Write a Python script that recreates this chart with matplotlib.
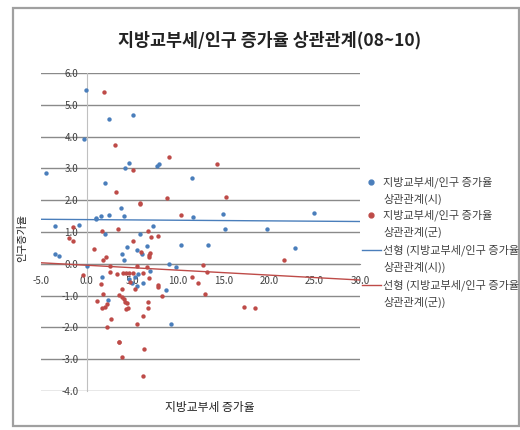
import matplotlib
matplotlib.use('Agg')
import matplotlib.pyplot as plt
from matplotlib.lines import Line2D
from matplotlib.patches import Rectangle
import numpy as np

plt.rcParams['font.family'] = ['Noto Sans CJK KR', 'DejaVu Sans']

# 시 (cities): 지방교부세 증가율 vs 인구 증가율
si_x = [-4.49, -0.10, -0.29, 2.46, 2.02, -3.43, -0.83, 1.00, 1.07, 1.61,
        2.46, 3.74, 4.07, 4.21, 4.69, 5.06, 7.25, 7.73, 7.91, 11.57,
        11.68, 2.05, 5.83, 14.94, 15.19, 19.84, 24.93, 22.88, 10.33, 13.33,
        9.08, 9.81, 8.72, 9.23, -3.43, -3.03, 0.08, 1.66, 2.35, 4.43,
        3.85, 4.14, 5.50, 6.05, 6.66, 6.93, 4.69, 5.31, 5.60, 5.53,
        6.16, 4.95]
si_y = [2.85, 5.47, 3.92, 4.56, 2.54, 1.20, 1.22, 1.40, 1.45, 1.50,
        1.53, 1.75, 1.50, 3.02, 3.17, 4.67, 1.18, 3.07, 3.13, 2.69,
        1.48, 0.94, 0.94, 1.57, 1.10, 1.10, 1.59, 0.51, 0.59, 0.59,
        -0.01, -0.10, -0.82, -1.88, 0.30, 0.24, -0.08, -0.42, -1.15, 0.52,
        0.30, 0.12, 0.43, 0.30, 0.57, -0.22, -0.49, -0.40, -0.33, -0.69,
        -0.61, -0.61]

# 군 (counties)
gun_x = [1.91, 3.12, 3.23, 5.09, 5.90, 5.83, 8.79, 9.01, 10.36, 3.41,
         6.78, 7.87, 7.03, 1.72, -1.53, -1.97, -1.46, 0.78, -0.40, 1.77,
         2.17, 1.11, 1.62, 1.77, 1.69, 2.05, 2.27, 2.57, 2.57, 2.71,
         2.24, 3.52, 3.37, 3.52, 14.35, 15.33, 6.96, 12.78, 13.18, 11.60,
         12.26, 7.84, 7.87, 8.31, 13.04, 17.25, 18.45, 21.62, 5.13, 6.88,
         6.90, 5.97, 5.50, 6.60, 3.96, 4.36, 4.70, 6.16, 6.88, 4.76,
         5.31, 3.85, 3.85, 4.14, 4.22, 4.40, 4.29, 4.51, 6.78, 6.78,
         6.16, 5.50, 3.59, 3.85, 6.30, 6.23, 5.13]
gun_y = [5.39, 3.75, 2.26, 2.96, 1.88, 1.91, 2.06, 3.35, 1.53, 1.10,
         1.04, 0.87, 0.85, 1.02, 1.15, 0.80, 0.73, 0.48, -0.36, 0.13,
         0.22, -1.18, -0.64, -0.96, -1.39, -1.35, -1.26, -0.07, -0.25, -1.75,
         -2.00, -2.45, -0.33, -0.98, 3.14, 2.11, 0.35, -0.04, -0.27, -0.40,
         -0.61, -0.67, -0.72, -1.00, -0.95, -1.37, -1.40, 0.12, 0.72, 0.28,
         0.20, 0.38, -0.06, -0.09, -0.28, -0.28, -0.28, -0.28, -0.46, -0.56,
         -0.79, -0.80, -1.03, -1.11, -1.21, -1.24, -1.42, -1.40, -1.19, -1.40,
         -1.63, -1.90, -2.46, -2.94, -2.67, -3.52, -0.30]

# linear trend lines (slope, intercept)
si_trend = (-0.002, 1.39)
gun_trend = (-0.0155, -0.045)

x_ticks = [-5.0, 0.0, 5.0, 10.0, 15.0, 20.0, 25.0, 30.0]
y_ticks = [-4.0, -3.0, -2.0, -1.0, 0.0, 1.0, 2.0, 3.0, 4.0, 5.0, 6.0]

legend_labels = ['지방교부세/인구 증가율\n상관관계(시)',
                 '지방교부세/인구 증가율\n상관관계(군)',
                 '선형 (지방교부세/인구 증가율\n상관관계(시))',
                 '선형 (지방교부세/인구 증가율\n상관관계(군))']

blue = '#4A7EBB'
red = '#BE4B48'
W, H = 520, 430

fig = plt.figure(figsize=(W / 100, H / 100), dpi=100)
fig.patch.set_facecolor('white')

def fx(px):
    return px / W

def fy(py):
    return 1 - py / H

# outer chart frame
fig.add_artist(Rectangle((fx(13), fy(426)), fx(519) - fx(13), fy(8) - fy(426),
                         transform=fig.transFigure, fill=False,
                         edgecolor='#a0a0a0', lw=1.6))

ax = fig.add_axes([fx(41), fy(391), fx(360) - fx(41), fy(73) - fy(391)])
ax.set_xlim(-5, 30)
ax.set_ylim(-4, 6)

ax.set_yticks(y_ticks)
ax.set_xticks(x_ticks)
ax.set_yticklabels(['%.1f' % v for v in y_ticks])
ax.set_xticklabels(['%.1f' % v for v in x_ticks])
ax.yaxis.grid(True, color='#8a8a8a', lw=1.0)
ax.set_axisbelow(True)

for s in ['top', 'right']:
    ax.spines[s].set_visible(False)
ax.spines['left'].set_position(('data', 0))
ax.spines['bottom'].set_position(('data', 0))
ax.spines['left'].set_color('#c0c0c0')
ax.spines['bottom'].set_color('#8a8a8a')
ax.tick_params(axis='both', length=0, labelsize=7, labelcolor='#404040')
ax.tick_params(axis='y', pad=6)
ax.tick_params(axis='x', pad=9)

ax.scatter(si_x, si_y, s=10, color=blue, zorder=3, linewidths=0)
ax.scatter(gun_x, gun_y, s=10, color=red, zorder=3, linewidths=0)

xs = np.array([-5, 30])
ax.plot(xs, si_trend[0] * xs + si_trend[1], color=blue, lw=1.0, zorder=4)
ax.plot(xs, gun_trend[0] * xs + gun_trend[1], color=red, lw=1.0, zorder=4)

fig.text(fx(270), fy(40), '지방교부세/인구 증가율 상관관계(08~10)',
         ha='center', va='center', fontsize=12.5, fontweight='bold',
         color='#222222')
fig.text(fx(210), fy(407), '지방교부세 증가율', ha='center', va='center',
         fontsize=8.5, color='#222222')
fig.text(fx(22), fy(238), '인구증가율', ha='center', va='center',
         rotation=90, fontsize=7.5, color='#222222')

# legend, drawn entry by entry
rows = [182, 215, 250, 285]
for i, (label, py) in enumerate(zip(legend_labels, rows)):
    c = blue if i % 2 == 0 else red
    if i < 2:
        fig.add_artist(Line2D([fx(371)], [fy(py)], marker='o', ms=3.5,
                              color=c, mec=c, transform=fig.transFigure))
    else:
        fig.add_artist(Line2D([fx(362), fx(381)], [fy(py), fy(py)],
                              color=c, lw=1.0, transform=fig.transFigure))
    first, second = label.split('\n')
    fig.text(fx(383), fy(py), first, ha='left', va='center', fontsize=8,
             color='#404040')
    fig.text(fx(383), fy(py + 17), second, ha='left', va='center',
             fontsize=8, color='#404040')

fig.savefig('out.png', dpi=100)
